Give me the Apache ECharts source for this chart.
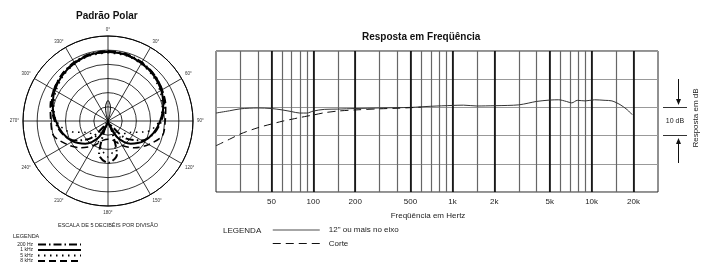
<!DOCTYPE html>
<html>
<head>
<meta charset="utf-8">
<script src="https://cdn.jsdelivr.net/npm/echarts@6/dist/echarts.min.js"></script>
<style>
  html, body { margin: 0; padding: 0; background: #fff; }
  #chart { width: 709px; height: 268px; }
</style>
</head>
<body>
<div id="chart"></div>
<script>
// polar pattern, dB (centre of the plot = -30 dB, 5 dB per ring)
const polarAngles = [0, 15, 30, 45, 60, 75, 90, 105, 120, 135, 150, 165, 180,
  195, 210, 225, 240, 255, 270, 285, 300, 315, 330, 345, 360];
const polar200 = [-5.3, -5.5, -6.1, -6.9, -8.0, -9.4, -11.2, -13.2, -16.3, -21.5, -29, -17.8, -15.2,
  -17.8, -29, -21.5, -16.3, -13.2, -11.2, -9.4, -8.0, -6.9, -6.1, -5.5, -5.3];
const polar1k = [-5.6, -5.8, -6.4, -7.2, -8.3, -9.8, -11.6, -13.4, -15.6, -18.7, -23.3, -28.6, -30,
  -28.6, -23.3, -18.7, -15.6, -13.4, -11.6, -9.8, -8.3, -7.2, -6.4, -5.8, -5.6];
const polar5k = [-5.9, -6.1, -6.7, -7.6, -8.8, -10.2, -11.8, -15.6, -21.8, -23, -22.6, -20.2, -17.3,
  -20.2, -22.6, -23, -21.8, -15.6, -11.8, -10.2, -8.8, -7.6, -6.7, -6.1, -5.9];
const polar8k = [-5.6, -5.8, -6.2, -6.9, -7.9, -8.9, -9.8, -10.1, -13.4, -16.6, -20, -22.9, -23.6,
  -22.9, -20, -16.6, -13.4, -10.1, -9.8, -8.9, -7.9, -6.9, -6.2, -5.8, -5.6];
// small front loop near the centre
const loopAngles = [0, 14, 10, 5, 0, 355, 350, 346, 0];
const loopDb = [-30, -27.2, -25.1, -23.6, -22.8, -23.6, -25.1, -27.2, -30];

// frequency response
const freqSolid = [20, 25, 30, 40, 50, 60, 70, 80, 90, 100, 120, 150, 200, 300, 500, 700,
  1000, 1200, 1500, 2000, 2500, 3000, 3500, 4000, 5000, 5800, 6600, 7200, 7900, 9000,
  10500, 12500, 14000, 16000, 18000, 19600];
const dbSolid = [-2.0, -1.2, -0.5, -0.2, -0.4, -0.9, -1.5, -2.0, -2.0, -1.3, -0.7, -0.6,
  -0.4, -0.2, 0.0, 0.4, 0.7, 0.8, 0.5, 0.6, 0.7, 0.9, 1.5, 2.1, 2.6, 2.7, 2.1, 1.6, 2.5, 2.3,
  2.7, 2.5, 2.3, 1.0, -0.8, -2.6];
const freqCut = [20, 25, 30, 40, 50, 60, 70, 80, 90, 100, 120, 150, 200, 300, 400, 500, 600];
const dbCut = [-13.6, -11.3, -9.4, -7.2, -5.9, -4.9, -4.2, -3.6, -3.1, -2.7, -1.9, -1.3,
  -0.9, -0.5, -0.3, -0.1, 0.1];

const gridFreqs = [30, 40, 50, 60, 70, 80, 90, 100, 150, 200, 300, 400, 500, 600, 700, 800,
  900, 1000, 1500, 2000, 3000, 4000, 5000, 6000, 7000, 8000, 9000, 10000, 15000, 20000];
const labelFreqs = [50, 100, 200, 500, 1000, 2000, 5000, 10000, 20000];

const font = 'Liberation Sans, Arial, sans-serif';

function zipPolar(rs, as) {
  return rs.map((r, i) => [r, as[i]]);
}
function zipXY(xs, ys) {
  return xs.map((x, i) => [x, ys[i]]);
}

const chart = echarts.init(document.getElementById('chart'), null, { renderer: 'canvas' });

const noSymbol = { color: 'transparent', borderWidth: 0, opacity: 0 };

const option = {
  animation: false,
  backgroundColor: '#fff',
  textStyle: { fontFamily: font },
  title: [
    { text: 'Padrão Polar', left: 76, top: 11, padding: 0,
      textStyle: { fontSize: 10, fontWeight: 'bold', color: '#111', fontFamily: font } },
    { text: 'Resposta em Freqüência', left: 362, top: 32, padding: 0,
      textStyle: { fontSize: 10, fontWeight: 'bold', color: '#111', fontFamily: font } }
  ],
  legend: [
    {
      data: ['200 Hz', '1 kHz', '5 kHz', '8 kHz'],
      orient: 'vertical', left: 11, top: 242,
      align: 'right', itemWidth: 43, itemHeight: 4, itemGap: 0.5,
      padding: 0, selectedMode: false,
      itemStyle: noSymbol,
      textStyle: { fontSize: 5, width: 22, align: 'right', lineHeight: 5, color: '#222', fontFamily: font }
    },
    {
      data: [
        { name: '12" ou mais no eixo', lineStyle: { color: '#888', width: 1.5 } },
        { name: 'Corte', lineStyle: { color: '#111', width: 1 } }
      ],
      orient: 'vertical', left: 272, top: 226,
      itemWidth: 47, itemHeight: 10, itemGap: 5.5,
      padding: 0, selectedMode: false,
      itemStyle: noSymbol,
      textStyle: { fontSize: 8, color: '#222', padding: [0, 0, 0, 4], fontFamily: font }
    }
  ],
  polar: { center: [108, 121], radius: 85 },
  angleAxis: {
    type: 'value', min: 0, max: 360, interval: 30,
    startAngle: 90, clockwise: true,
    axisLine: { lineStyle: { color: '#000', width: 1 } },
    axisTick: { show: false },
    axisLabel: { formatter: '{value}°', fontSize: 4.5, margin: 4, color: '#333' },
    splitLine: { lineStyle: { color: '#000', width: 0.8 } }
  },
  radiusAxis: {
    min: -30, max: 0, interval: 5,
    axisLine: { show: false }, axisTick: { show: false }, axisLabel: { show: false },
    splitLine: { lineStyle: { color: '#000', width: 0.8 } }
  },
  grid: { left: 216, top: 51, width: 442, height: 141, show: true, borderColor: '#222', borderWidth: 1 },
  xAxis: [
    {
      type: 'log', min: 20, max: 30000,
      axisLine: { show: false }, axisTick: { show: false, customValues: gridFreqs },
      axisLabel: { show: false },
      splitLine: { show: true, lineStyle: { color: '#666', width: 1.2 } }
    },
    {
      type: 'log', min: 20, max: 30000, position: 'bottom',
      axisLine: { show: false }, axisTick: { show: false, customValues: labelFreqs },
      axisLabel: {
        customValues: labelFreqs, fontSize: 8, margin: 6, color: '#222',
        formatter: v => (v >= 1000 ? (v / 1000) + 'k' : String(v))
      },
      splitLine: { show: true, lineStyle: { color: '#000', width: 1.5 } }
    }
  ],
  yAxis: {
    type: 'value', min: -30, max: 20, interval: 10,
    axisLine: { show: false }, axisTick: { show: false }, axisLabel: { show: false },
    splitLine: { lineStyle: { color: '#999', width: 1 } }
  },
  series: [
    { name: '200 Hz', type: 'line', coordinateSystem: 'polar', symbol: 'none', smooth: 0.3,
      data: zipPolar(polar200, polarAngles), itemStyle: { color: '#000' },
      lineStyle: { color: '#000', width: 2, type: [8, 3, 1.5, 3] } },
    { name: '1 kHz', type: 'line', coordinateSystem: 'polar', symbol: 'none', smooth: 0.3,
      data: zipPolar(polar1k, polarAngles), itemStyle: { color: '#000' },
      lineStyle: { color: '#000', width: 2 } },
    { name: '5 kHz', type: 'line', coordinateSystem: 'polar', symbol: 'none', smooth: 0.3,
      data: zipPolar(polar5k, polarAngles), itemStyle: { color: '#000' },
      lineStyle: { color: '#000', width: 1.5, type: [1.5, 4.5] } },
    { name: '8 kHz', type: 'line', coordinateSystem: 'polar', symbol: 'none', smooth: 0.3,
      data: zipPolar(polar8k, polarAngles), itemStyle: { color: '#000' },
      lineStyle: { color: '#000', width: 1.5, type: [7, 4] } },
    { name: 'loop', type: 'line', coordinateSystem: 'polar', symbol: 'none', smooth: 0.4,
      data: zipPolar(loopDb, loopAngles), itemStyle: { color: '#000' },
      lineStyle: { color: '#000', width: 1 } },
    { name: '12" ou mais no eixo', type: 'line', xAxisIndex: 0, symbol: 'none', smooth: 0.3,
      data: zipXY(freqSolid, dbSolid), itemStyle: { color: '#333' },
      lineStyle: { color: '#333', width: 1 } },
    { name: 'Corte', type: 'line', xAxisIndex: 0, symbol: 'none', smooth: 0.3,
      data: zipXY(freqCut, dbCut), itemStyle: { color: '#111' },
      lineStyle: { color: '#111', width: 1, type: [8, 5] } }
  ],
  graphic: [
    { type: 'text', x: 108, y: 225,
      style: { text: 'ESCALA DE 5 DECIBÉIS POR DIVISÃO', fill: '#222', font: '5.5px ' + font,
        textAlign: 'center', textVerticalAlign: 'middle' } },
    { type: 'text', x: 13, y: 236,
      style: { text: 'LEGENDA', fill: '#222', font: '5.5px ' + font, textVerticalAlign: 'middle' } },
    { type: 'text', x: 223, y: 231,
      style: { text: 'LEGENDA', fill: '#222', font: '8px ' + font, textVerticalAlign: 'middle' } },
    { type: 'text', x: 428, y: 216,
      style: { text: 'Freqüência em Hertz', fill: '#222', font: '8px ' + font,
        textAlign: 'center', textVerticalAlign: 'middle' } },
    // 10 dB scale marker on the right
    { type: 'line', shape: { x1: 663, y1: 107.5, x2: 687, y2: 107.5 }, style: { stroke: '#333', lineWidth: 1 } },
    { type: 'line', shape: { x1: 663, y1: 135.5, x2: 687, y2: 135.5 }, style: { stroke: '#333', lineWidth: 1 } },
    { type: 'line', shape: { x1: 678.5, y1: 79, x2: 678.5, y2: 100 }, style: { stroke: '#111', lineWidth: 1 } },
    { type: 'polygon', shape: { points: [[676, 99], [681, 99], [678.5, 105]] }, style: { fill: '#111' } },
    { type: 'line', shape: { x1: 678.5, y1: 163, x2: 678.5, y2: 143 }, style: { stroke: '#111', lineWidth: 1 } },
    { type: 'polygon', shape: { points: [[676, 144], [681, 144], [678.5, 138]] }, style: { fill: '#111' } },
    { type: 'text', x: 675, y: 121.5,
      style: { text: '10 dB', fill: '#222', font: '7px ' + font, textAlign: 'center', textVerticalAlign: 'middle' } },
    { type: 'text', x: 696, y: 118, rotation: Math.PI / 2,
      style: { text: 'Resposta em dB', fill: '#222', font: '8px ' + font, textAlign: 'center', textVerticalAlign: 'middle' } }
  ]
};

chart.setOption(option);
window.addEventListener('resize', function () {
  chart.resize();
});
</script>
</body>
</html>
